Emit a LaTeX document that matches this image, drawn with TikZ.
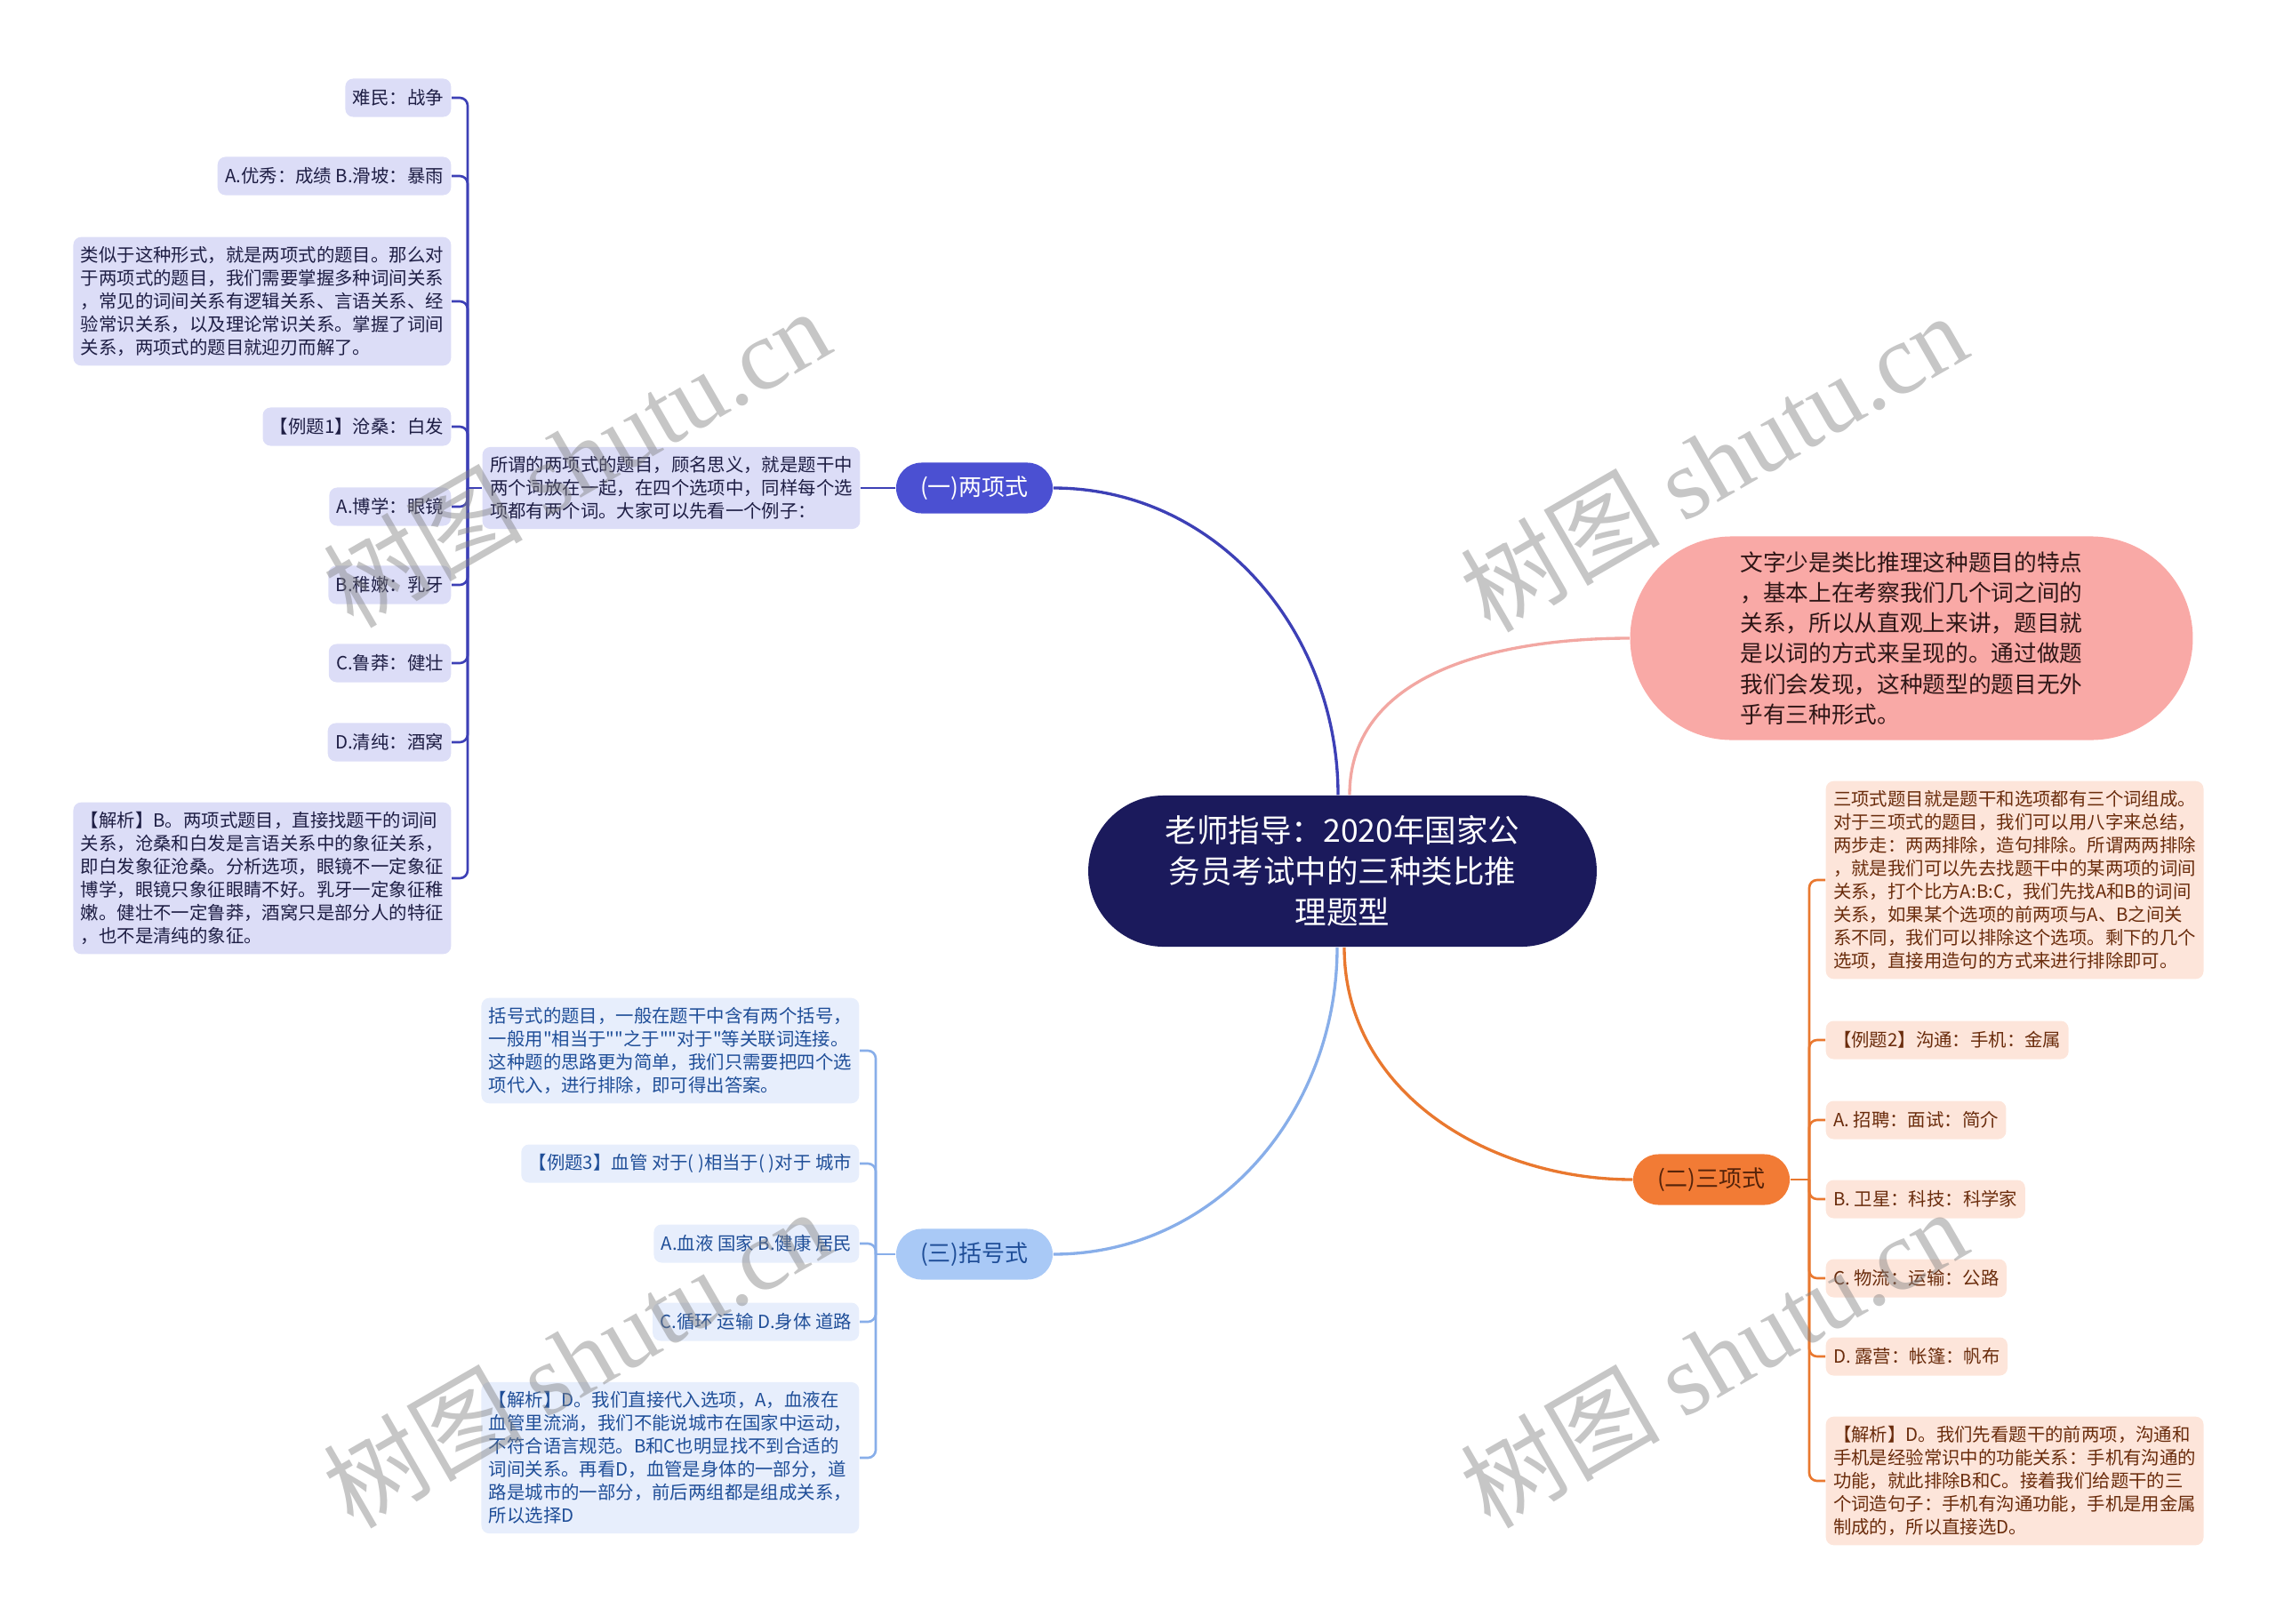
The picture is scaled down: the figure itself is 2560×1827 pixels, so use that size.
\documentclass[tikz,border=0pt]{standalone}
\usepackage{fontspec}
\usepackage{xcolor}
\usepackage{tikz}
\usetikzlibrary{shapes.misc}
\setmainfont{Noto Sans CJK SC}[Ligatures=TeXOff]
\newfontfamily\wmlatin{Liberation Serif}

\definecolor{rootblue}{HTML}{1B1A5C}
\definecolor{violet}{HTML}{4B50D2}
\definecolor{violetline}{HTML}{3D40B6}
\definecolor{violetleaf}{HTML}{DCDDF7}
\definecolor{violettext}{HTML}{1E1E44}
\definecolor{salmon}{HTML}{F9A9A6}
\definecolor{salmonline}{HTML}{F2A7A2}
\definecolor{salmontext}{HTML}{2E1616}
\definecolor{carrot}{HTML}{F27B35}
\definecolor{carrotline}{HTML}{E9782F}
\definecolor{carrotleaf}{HTML}{FDE5DA}
\definecolor{carrottext}{HTML}{6A2C0C}
\definecolor{sky}{HTML}{A9C9F6}
\definecolor{skyline}{HTML}{88AEE9}
\definecolor{skyleaf}{HTML}{E7EEFC}
\definecolor{skytext}{HTML}{1F4E98}

\begin{document}
\begin{tikzpicture}[x=0.01cm, y=0.01cm,
    rootnode/.style={rounded rectangle, fill=rootblue, text=white, minimum width=5.95cm, minimum height=1.70cm, align=center, font=\fontsize{10.1}{13}\selectfont},
    topic/.style={rounded rectangle, minimum width=1.76cm, minimum height=0.57cm, inner sep=0pt, font=\fontsize{7.4}{9}\selectfont},
    leaf/.style={rounded corners=2.5pt, align=left, inner xsep=2.4pt, inner ysep=3pt, minimum height=0.43cm, font=\fontsize{5.8}{7.4}\selectfont},
    vleaf/.style={leaf, fill=violetleaf, text=violettext},
    cleaf/.style={leaf, fill=carrotleaf, text=carrottext},
    sleaf/.style={leaf, fill=skyleaf, text=skytext},
    link/.style={line width=0.95pt},
    twig/.style={line width=0.75pt, rounded corners=2.5pt},
    wmark/.style={text=black!50, opacity=0.45, rotate=30, font=\fontsize{32}{32}\selectfont}
]
    \useasboundingbox (0,0) rectangle (2560,-1827);

    % centre and main topics
    \node[rootnode] (root) at (1510,-980) {老师指导：2020年国家公\\务员考试中的三种类比推\\理题型};
    \node[topic, fill=violet, text=white] (two) at (1096,-549) {(一)两项式};
    \node[rounded rectangle, fill=salmon, text=salmontext, minimum width=6.56cm, minimum height=2.29cm, align=left, font=\fontsize{7.3}{9.75}\selectfont] (intro) at (2150,-718) {文字少是类比推理这种题目的特点\\，基本上在考察我们几个词之间的\\关系，所以从直观上来讲，题目就\\是以词的方式来呈现的。通过做题\\我们会发现，这种题型的题目无外\\乎有三种形式。};
    \node[topic, fill=carrot, text=carrottext!80!black] (three) at (1925,-1327) {(二)三项式};
    \node[topic, fill=sky, text=skytext] (paren) at (1096,-1411) {(三)括号式};

    \draw[link, violetline] ([xshift=-0.05cm]root.north) to[out=90, in=0] (two.east);
    \draw[link, salmonline] ([xshift=0.08cm]root.north) to[out=90, in=180] (intro.west);
    \draw[link, carrotline] ([xshift=0.02cm]root.south) to[out=-90, in=180] (three.west);
    \draw[link, skyline] ([xshift=-0.06cm]root.south) to[out=-90, in=0] (paren.east);

    % (一) two-term branch
    \node[vleaf] (twodesc) at (755,-549) {所谓的两项式的题目，顾名思义，就是题干中\\两个词放在一起，在四个选项中，同样每个选\\项都有两个词。大家可以先看一个例子：};
    \coordinate (twohub) at (526,-549);
    \node[vleaf, anchor=east] (refugee) at (508,-110) {难民：战争};
    \node[vleaf, anchor=east] (excel) at (508,-198) {A.优秀：成绩 B.滑坡：暴雨};
    \node[vleaf, anchor=east] (similar) at (508,-339) {类似于这种形式，就是两项式的题目。那么对\\于两项式的题目，我们需要掌握多种词间关系\\，常见的词间关系有逻辑关系、言语关系、经\\验常识关系，以及理论常识关系。掌握了词间\\关系，两项式的题目就迎刃而解了。};
    \node[vleaf, anchor=east] (ex1) at (508,-480) {【例题1】沧桑：白发};
    \node[vleaf, anchor=east] (opta) at (508,-570) {A.博学：眼镜};
    \node[vleaf, anchor=east] (optb) at (508,-658) {B.稚嫩：乳牙};
    \node[vleaf, anchor=east] (optc) at (508,-746) {C.鲁莽：健壮};
    \node[vleaf, anchor=east] (optd) at (508,-835) {D.清纯：酒窝};
    \node[vleaf, anchor=east] (ans1) at (508,-988) {【解析】B。两项式题目，直接找题干的词间\\关系，沧桑和白发是言语关系中的象征关系，\\即白发象征沧桑。分析选项，眼镜不一定象征\\博学，眼镜只象征眼睛不好。乳牙一定象征稚\\嫩。健壮不一定鲁莽，酒窝只是部分人的特征\\，也不是清纯的象征。};

    \draw[twig, violetline] (two.west) -- (twodesc.east);
    \draw[twig, violetline] (twodesc.west) -- (twohub);
    \foreach \leafname in {refugee, excel, similar, ex1, opta, optb, optc, optd, ans1}
        \draw[twig, violetline] (twohub) |- (\leafname.east);

    % (二) three-term branch
    \coordinate (threehub) at (2035,-1327);
    \node[cleaf, anchor=west] (threedesc) at (2053,-990) {三项式题目就是题干和选项都有三个词组成。\\对于三项式的题目，我们可以用八字来总结，\\两步走：两两排除，造句排除。所谓两两排除\\，就是我们可以先去找题干中的某两项的词间\\关系，打个比方A:B:C，我们先找A和B的词间\\关系，如果某个选项的前两项与A、B之间关\\系不同，我们可以排除这个选项。剩下的几个\\选项，直接用造句的方式来进行排除即可。};
    \node[cleaf, anchor=west] (ex2) at (2053,-1170) {【例题2】沟通：手机：金属};
    \node[cleaf, anchor=west] (hire) at (2053,-1260) {A. 招聘：面试：简介};
    \node[cleaf, anchor=west] (star) at (2053,-1349) {B. 卫星：科技：科学家};
    \node[cleaf, anchor=west] (ship) at (2053,-1438) {C. 物流：运输：公路};
    \node[cleaf, anchor=west] (camp) at (2053,-1526) {D. 露营：帐篷：帆布};
    \node[cleaf, anchor=west] (ans2) at (2053,-1666) {【解析】D。我们先看题干的前两项，沟通和\\手机是经验常识中的功能关系：手机有沟通的\\功能，就此排除B和C。接着我们给题干的三\\个词造句子：手机有沟通功能，手机是用金属\\制成的，所以直接选D。};

    \draw[twig, carrotline] (three.east) -- (threehub);
    \foreach \leafname in {threedesc, ex2, hire, star, ship, camp, ans2}
        \draw[twig, carrotline] (threehub) |- (\leafname.west);

    % (三) bracket branch
    \coordinate (parenhub) at (985,-1411);
    \node[sleaf, anchor=east] (parendesc) at (967,-1182) {括号式的题目，一般在题干中含有两个括号，\\一般用"相当于""之于""对于"等关联词连接。\\这种题的思路更为简单，我们只需要把四个选\\项代入，进行排除，即可得出答案。};
    \node[sleaf, anchor=east] (ex3) at (967,-1309) {【例题3】血管 对于( )相当于( )对于 城市};
    \node[sleaf, anchor=east] (blood) at (967,-1399) {A.血液 国家 B.健康 居民};
    \node[sleaf, anchor=east] (cycle) at (967,-1487) {C.循环 运输 D.身体 道路};
    \node[sleaf, anchor=east] (ans3) at (967,-1640) {【解析】D。我们直接代入选项，A，血液在\\血管里流淌，我们不能说城市在国家中运动，\\不符合语言规范。B和C也明显找不到合适的\\词间关系。再看D，血管是身体的一部分，道\\路是城市的一部分，前后两组都是组成关系，\\所以选择D};

    \draw[twig, skyline] (paren.west) -- (parenhub);
    \foreach \leafname in {parendesc, ex3, blood, cycle, ans3}
        \draw[twig, skyline] (parenhub) |- (\leafname.east);

    % watermarks
    \node[wmark] (wm1) at (648,-514) {树图 {\wmlatin shutu.cn}};
    \node[wmark] (wm2) at (1927,-519) {树图 {\wmlatin shutu.cn}};
    \node[wmark] (wm3) at (648,-1527) {树图 {\wmlatin shutu.cn}};
    \node[wmark] (wm4) at (1927,-1527) {树图 {\wmlatin shutu.cn}};
\end{tikzpicture}
\end{document}
